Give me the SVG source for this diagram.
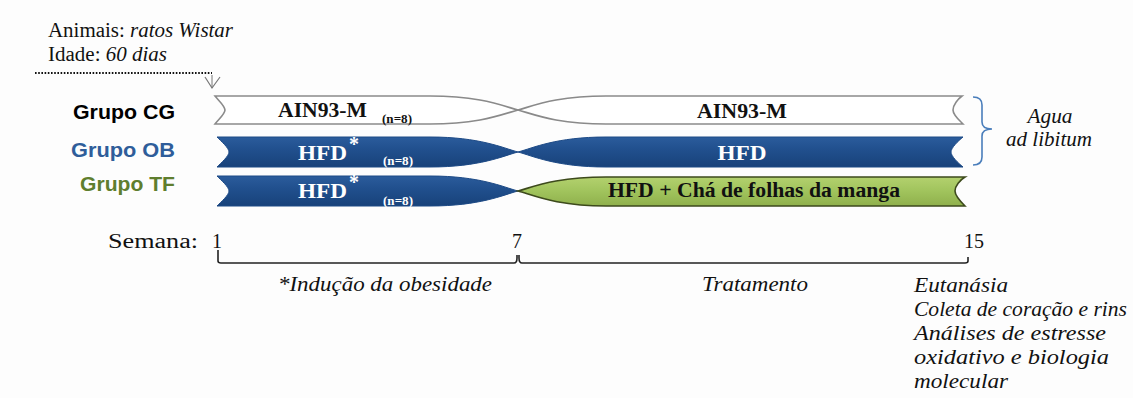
<svg xmlns="http://www.w3.org/2000/svg" width="1133" height="398" viewBox="0 0 1133 398">
  <defs>
    <linearGradient id="blueG" x1="0" y1="0" x2="0" y2="1">
      <stop offset="0" stop-color="#2b5c9c"/>
      <stop offset="0.4" stop-color="#21508e"/>
      <stop offset="1" stop-color="#18427a"/>
    </linearGradient>
    <linearGradient id="greenG" x1="0" y1="0" x2="0" y2="1">
      <stop offset="0" stop-color="#b3d16e"/>
      <stop offset="0.5" stop-color="#a0c35c"/>
      <stop offset="1" stop-color="#8fb04c"/>
    </linearGradient>
    <style>
      text { font-family: "Liberation Serif", "DejaVu Serif", serif; fill: #111; }
      .grp { font-family: "Liberation Sans", "Open Sans", sans-serif; font-weight: bold; font-size: 20px; text-anchor: end; }
      .bar-w { fill: #ffffff; stroke: #8a8a8a; stroke-width: 1.6; }
      .bar-b { fill: url(#blueG); stroke: #1d4a86; stroke-width: 1; }
      .bar-g { fill: url(#greenG); stroke: #3d4a1c; stroke-width: 1.6; }
      .lbl { font-weight: bold; font-size: 20px; }
      .n { font-weight: bold; font-size: 12.5px; }
      .axis { fill: none; stroke: #222; stroke-width: 1.6; }
    </style>
  </defs>
  <rect width="1133" height="398" fill="#fdfdfd"/>

  <!-- header -->
  <g id="header" font-size="20">
    <text x="48" y="37" textLength="185" lengthAdjust="spacingAndGlyphs">Animais: <tspan font-style="italic">ratos Wistar</tspan></text>
    <text x="48" y="61" textLength="119" lengthAdjust="spacingAndGlyphs">Idade: <tspan font-style="italic">60 dias</tspan></text>
  </g>

  <!-- connectors -->
  <g id="connectors">
    <path d="M35 73 H212" fill="none" stroke="#111" stroke-width="2" stroke-dasharray="1.6 1.6"/>
    <path d="M212 75 V88" fill="none" stroke="#777" stroke-width="1"/>
    <path d="M205 77 L212 88 L220 77" fill="none" stroke="#777" stroke-width="1.2"/>
    <path d="M973 97 Q982 97 982 105 V122 Q982 129 992 129 Q982 129 982 136 V157 Q982 165 973 165" fill="none" stroke="#4a7ebb" stroke-width="1.6"/>
  </g>

  <!-- group labels -->
  <g id="label-CG"><text class="grp" x="175" y="119" style="fill:#000" textLength="102" lengthAdjust="spacingAndGlyphs">Grupo CG</text></g>
  <g id="label-OB"><text class="grp" x="175" y="157" style="fill:#2f5d9a" textLength="104" lengthAdjust="spacingAndGlyphs">Grupo OB</text></g>
  <g id="label-TF"><text class="grp" x="175" y="191" style="fill:#5f7e2e" textLength="95" lengthAdjust="spacingAndGlyphs">Grupo TF</text></g>

  <!-- CG row -->
  <g id="CG-phase1">
    <path class="bar-w" d="M215 96 L430 96 C480 96 503 106 518 110 C503 114 480 124 430 124 L215 124 C218 120 225 114 225 110 C225 106 218 100 215 96 Z"/>
    <text class="lbl" x="278" y="117" textLength="89" lengthAdjust="spacingAndGlyphs">AIN93-M</text>
    <text class="n" x="382" y="123" textLength="30" lengthAdjust="spacingAndGlyphs">(n=8)</text>
  </g>
  <g id="CG-phase2">
    <path class="bar-w" d="M518 110 C533 106 556 96 606 96 L962 96 C958 99 953 105 953 110 C953 115 959 120 963 124 L606 124 C556 124 533 114 518 110 Z"/>
    <text class="lbl" x="742" y="118" text-anchor="middle" textLength="90" lengthAdjust="spacingAndGlyphs">AIN93-M</text>
  </g>

  <!-- OB row -->
  <g id="OB-phase1">
    <path class="bar-b" d="M217 137 L430 137 C480 137 503 148 518 152 C503 156 480 167 430 167 L217 167 C221 163 229 156 229 152 C229 148 221 141 217 137 Z"/>
    <text class="lbl" x="298" y="160" style="fill:#fff" textLength="49" lengthAdjust="spacingAndGlyphs">HFD</text>
    <text class="lbl" x="349" y="151" style="fill:#fff" font-size="11">*</text>
    <text class="n" x="383" y="165" style="fill:#fff" textLength="30" lengthAdjust="spacingAndGlyphs">(n=8)</text>
  </g>
  <g id="OB-phase2">
    <path class="bar-b" d="M518 152 C533 148 556 137 606 137 L963 137 C958 141 951 148 951 152 C951 156 958 163 963 167 L606 167 C556 167 533 156 518 152 Z"/>
    <text class="lbl" x="742" y="160" style="fill:#fff" text-anchor="middle" textLength="49" lengthAdjust="spacingAndGlyphs">HFD</text>
  </g>

  <!-- TF row -->
  <g id="TF-phase1">
    <path class="bar-b" d="M217 176 L430 176 C480 176 503 187 518 191 C503 195 480 206 430 206 L217 206 C221 202 229 195 229 191 C229 187 221 180 217 176 Z"/>
    <text class="lbl" x="298" y="198" style="fill:#fff" textLength="49" lengthAdjust="spacingAndGlyphs">HFD</text>
    <text class="lbl" x="349" y="189" style="fill:#fff" font-size="11">*</text>
    <text class="n" x="383" y="205" style="fill:#fff" textLength="30" lengthAdjust="spacingAndGlyphs">(n=8)</text>
  </g>
  <g id="TF-phase2">
    <path class="bar-g" d="M518 191 C533 187 556 177 606 177 L965 177 C960 180 955 186 955 191 C955 196 961 202 965 206 L606 206 C556 206 533 195 518 191 Z"/>
    <text class="lbl" x="754" y="197" text-anchor="middle" textLength="292" lengthAdjust="spacingAndGlyphs">HFD + Chá de folhas da manga</text>
  </g>

  <!-- water -->
  <g id="water" font-size="20" font-style="italic">
    <text x="1050" y="123" text-anchor="middle" textLength="45" lengthAdjust="spacingAndGlyphs">Agua</text>
    <text x="1049" y="146" text-anchor="middle" textLength="86" lengthAdjust="spacingAndGlyphs">ad libitum</text>
  </g>

  <!-- timeline -->
  <g id="timeline" font-size="20">
    <text x="108" y="248" textLength="90" lengthAdjust="spacingAndGlyphs">Semana:</text>
    <text x="217" y="248" text-anchor="middle">1</text>
    <text x="517" y="248" text-anchor="middle">7</text>
    <text x="974" y="248" text-anchor="middle">15</text>
    <path class="axis" d="M218 250 V261 Q218 263 221 263 H514 Q517 263 517 258 V255 M519 255 V258 Q519 263 522 263 H965 Q968 263 968 261 V257"/>
    <text x="385" y="291" font-style="italic" text-anchor="middle" textLength="214" lengthAdjust="spacingAndGlyphs">*Indução da obesidade</text>
    <text x="755" y="291" font-style="italic" text-anchor="middle" textLength="106" lengthAdjust="spacingAndGlyphs">Tratamento</text>
  </g>

  <!-- outcomes -->
  <g id="outcomes" font-size="20" font-style="italic">
    <text x="914" y="292" textLength="94" lengthAdjust="spacingAndGlyphs">Eutanásia</text>
    <text x="914" y="316" textLength="213" lengthAdjust="spacingAndGlyphs">Coleta de coração e rins</text>
    <text x="914" y="340" textLength="192" lengthAdjust="spacingAndGlyphs">Análises de estresse</text>
    <text x="914" y="364" textLength="195" lengthAdjust="spacingAndGlyphs">oxidativo e biologia</text>
    <text x="914" y="388" textLength="94" lengthAdjust="spacingAndGlyphs">molecular</text>
  </g>
</svg>
